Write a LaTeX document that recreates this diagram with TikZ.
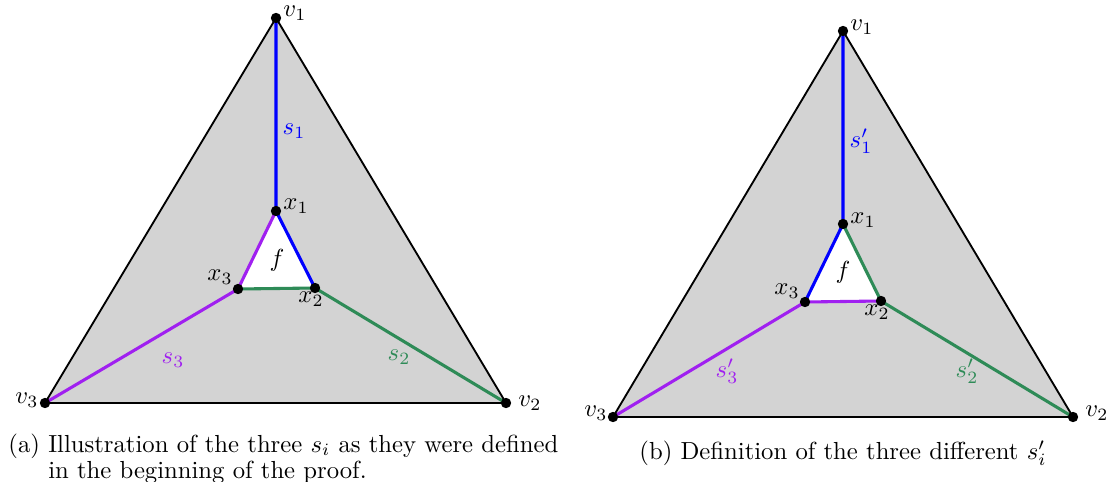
\documentclass[tikz,border=0pt]{standalone}
\usepackage{amsmath}
\definecolor{facegray}{RGB}{211,211,211}
\definecolor{sgreen}{RGB}{46,139,87}
\definecolor{spurple}{RGB}{160,32,240}
\definecolor{sblue}{RGB}{0,0,255}
\begin{document}
\begin{tikzpicture}[x=0.405pt,y=-0.405pt,
  dot/.style={circle,fill=black,inner sep=0pt,minimum size=4.2pt},
  outer/.style={draw=black,line width=0.75pt,fill=facegray,line join=round},
  seg/.style={line width=1.25pt},
  lbl/.style={inner sep=1pt}]
\useasboundingbox (0,0) rectangle (1116,482);
% ---------- left picture ----------
\coordinate (av1) at (276,18);
\coordinate (av2) at (506,403);
\coordinate (av3) at (45,403);
\coordinate (ax1) at (276,211);
\coordinate (ax2) at (315,288);
\coordinate (ax3) at (238,289);
\path[outer] (av1) -- (av2) -- (av3) -- cycle;
\path[fill=white] (ax1) -- (ax2) -- (ax3) -- cycle;
\draw[seg,sblue] (av1) -- (ax1) -- (ax2);
\draw[seg,sgreen] (av2) -- (ax2) -- (ax3);
\draw[seg,spurple] (av3) -- (ax3) -- (ax1);
\foreach \p in {av1,av2,av3,ax1,ax2,ax3} \node[dot] (d\p) at (\p) {};
\node[lbl] (lav1) at (295,13) {$v_1$};
\node[lbl] (lav2) at (530,403) {$v_2$};
\node[lbl] (lav3) at (27,400) {$v_3$};
\node[lbl] (lax1) at (296,206) {$x_1$};
\node[lbl] (lax2) at (311,299) {$x_2$};
\node[lbl] (lax3) at (220,277) {$x_3$};
\node[lbl] (laf) at (277,260) {$f$};
\node[lbl,text=sblue] (las1) at (294,131) {$s_1$};
\node[lbl,text=sgreen] (las2) at (399,357) {$s_2$};
\node[lbl,text=spurple] (las3) at (173,360) {$s_3$};
\node[anchor=north west,inner sep=0pt] (capa) at (8,431) {\begin{tabular}[t]{@{}l@{ }l@{}}(a) & Illustration of the three $s_i$ as they were defined\\[-1.2pt] & in the beginning of the proof.\end{tabular}};
% ---------- right picture ----------
\coordinate (bv1) at (843,31);
\coordinate (bv2) at (1073,417);
\coordinate (bv3) at (613,417);
\coordinate (bx1) at (843,224);
\coordinate (bx2) at (881,301);
\coordinate (bx3) at (805,302);
\path[outer] (bv1) -- (bv2) -- (bv3) -- cycle;
\path[fill=white] (bx1) -- (bx2) -- (bx3) -- cycle;
\draw[seg,sblue] (bv1) -- (bx1) -- (bx3);
\draw[seg,sgreen] (bv2) -- (bx2) -- (bx1);
\draw[seg,spurple] (bv3) -- (bx3) -- (bx2);
\foreach \p in {bv1,bv2,bv3,bx1,bx2,bx3} \node[dot] (d\p) at (\p) {};
\node[lbl] (lbv1) at (862,27) {$v_1$};
\node[lbl] (lbv2) at (1097,413) {$v_2$};
\node[lbl] (lbv3) at (596,413) {$v_3$};
\node[lbl] (lbx1) at (863,220) {$x_1$};
\node[lbl] (lbx2) at (877,312) {$x_2$};
\node[lbl] (lbx3) at (787,291) {$x_3$};
\node[lbl] (lbf) at (843,272) {$f$};
\node[lbl,text=sblue] (lbs1) at (861,141) {$s_1'$};
\node[lbl,text=sgreen] (lbs2) at (967,371) {$s_2'$};
\node[lbl,text=spurple] (lbs3) at (727,371) {$s_3'$};
\node[inner sep=0pt] (capb) at (843,453) {(b) Definition of the three different $s_i'$};
\end{tikzpicture}
\end{document}
